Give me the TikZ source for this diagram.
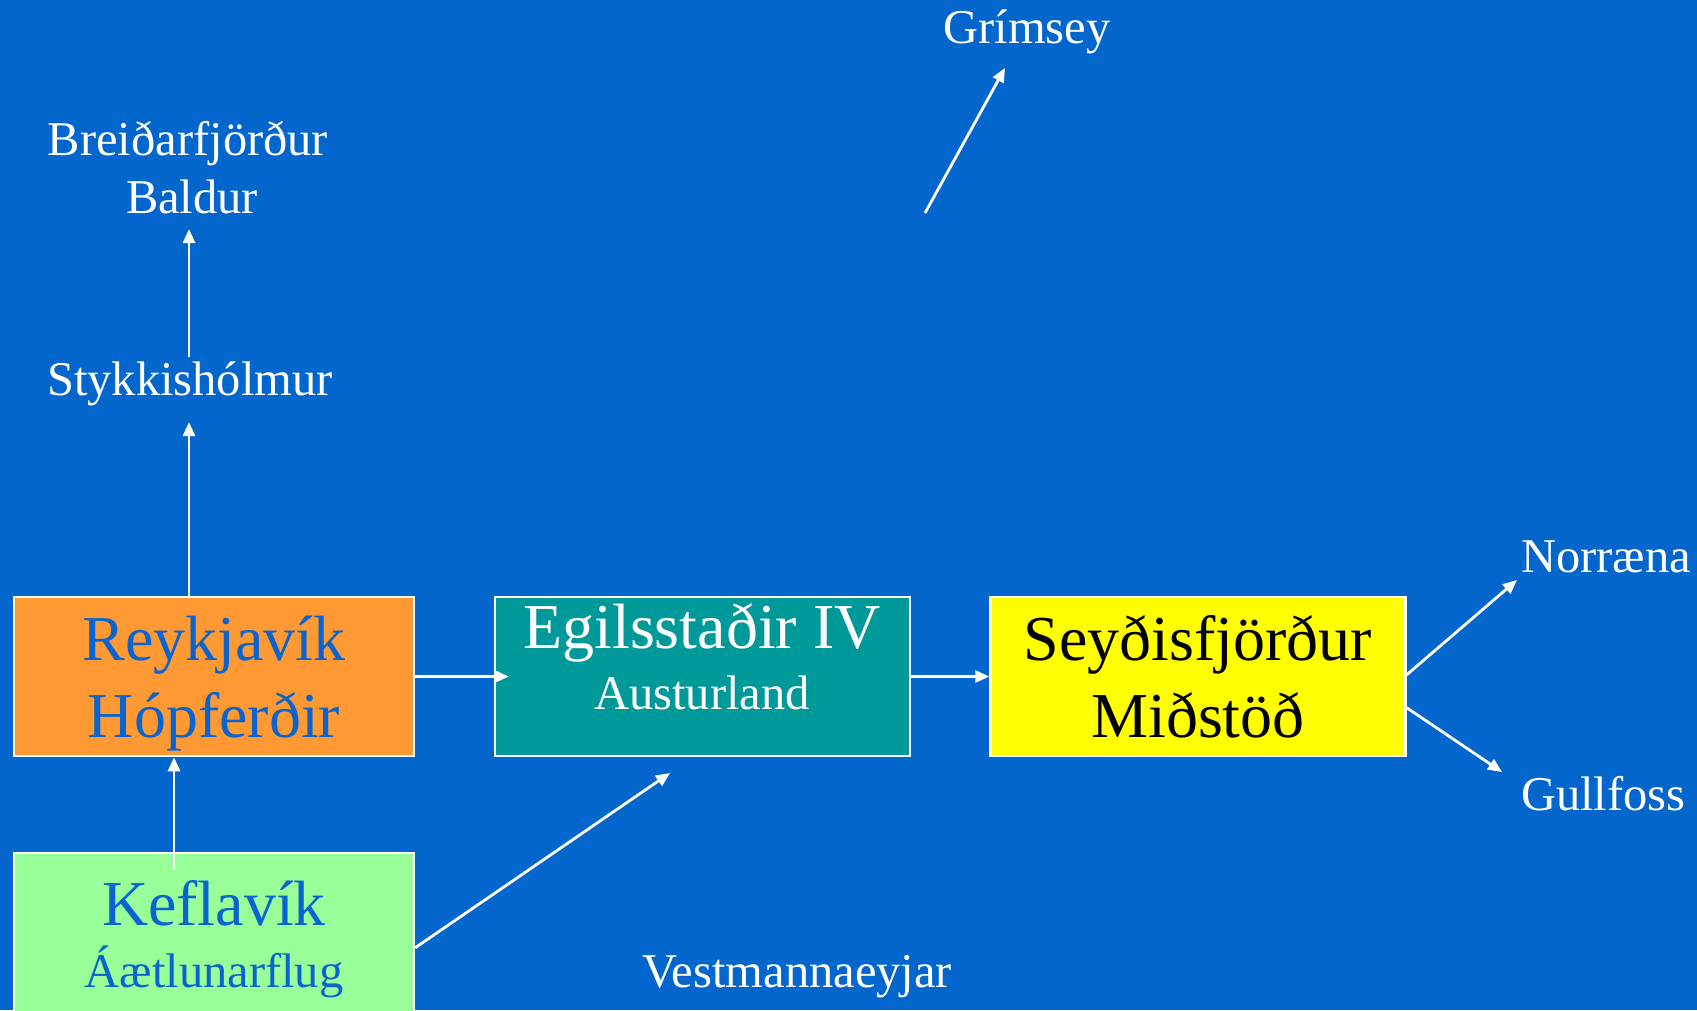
\documentclass[tikz,border=0pt]{standalone}
\usepackage{fontspec}
\setmainfont{Liberation Serif}
\usetikzlibrary{arrows.meta,calc}
\definecolor{bg}{HTML}{0366CC}
\definecolor{orng}{HTML}{FF9933}
\definecolor{teal2}{HTML}{009999}
\definecolor{lgreen}{HTML}{99FF99}
\definecolor{yel}{HTML}{FFFF00}
\definecolor{tblue}{HTML}{0A64CF}
\newcommand{\fL}{\fontsize{64}{77}\selectfont}
\newcommand{\fM}{\fontsize{48.5}{58}\selectfont}
\begin{document}
\begin{tikzpicture}[x=1pt,y=-1pt,
  box/.style={draw=white,line width=2.5pt,inner sep=0pt},
  lab/.style={inner sep=0pt,anchor=base},
  labw/.style={inner sep=0pt,anchor=base west},
  arr/.style={draw=white,line width=2.8pt,-{Triangle[length=14pt,width=12pt]}}]
\fill[bg] (0,0) rectangle (1697,1010);
\useasboundingbox (0,0) rectangle (1697,1010);
\clip (0,0) rectangle (1697,1010);
% boxes
\node[box,fill=orng,minimum width=400pt,minimum height=159pt] (r) at (214,676.5) {};
\node[box,fill=teal2,minimum width=415pt,minimum height=159pt] (e) at (702.5,676.5) {};
\node[box,fill=yel,minimum width=415pt,minimum height=159pt] (s) at (1198,676.5) {};
\node[box,fill=lgreen,minimum width=400pt,minimum height=200pt] (k) at (214,953) {};
% box texts
\node[lab,text=tblue,font=\fL] (r1) at (214,660) {Reykjavík};
\node[lab,text=tblue,font=\fL] (r2) at (214,737) {Hópferðir};
\node[lab,text=white,font=\fL] (e1) at (702,648) {Egilsstaðir IV};
\node[lab,text=white,font=\fM] (e2) at (702,709) {Austurland};
\node[lab,text=black,font=\fL] (s1) at (1198,660) {Seyðisfjörður};
\node[lab,text=black,font=\fL] (s2) at (1198,737) {Miðstöð};
\node[lab,text=tblue,font=\fL] (k1) at (214,925) {Keflavík};
\node[lab,text=tblue,font=\fM] (k2) at (214,987) {Áætlunarflug};
% free labels
\node[lab,text=white,font=\fM] (sty) at (190,395) {Stykkishólmur};
\node[lab,text=white,font=\fM] (br1) at (188,155) {Breiðarfjörður};
\node[lab,text=white,font=\fM] (br2) at (192,213) {Baldur};
\node[lab,text=white,font=\fM] (gr) at (1027,43) {Grímsey};
\node[labw,text=white,font=\fM] (no) at (1521,572) {Norræna};
\node[labw,text=white,font=\fM] (gu) at (1521,810) {Gullfoss};
\node[labw,text=white,font=\fM] (ve) at (642,987) {Vestmannaeyjar};
% arrow end coordinates
\coordinate (styB) at (189,422);
\coordinate (styT) at (189,357);
\coordinate (brB) at (189,229);
\coordinate (grS) at (925,213);
\coordinate (grE) at (1005,68);
\coordinate (keE) at (670,773);
\coordinate (krS) at (174,870);
\coordinate (noE) at (1517,580);
\coordinate (guE) at (1502,772);
% connectors
\draw[arr] (r.east) -- ($(e.west)+(15,0)$);
\draw[arr] (e.east) -- (s.west);
\draw[arr] (krS) -- (krS |- r.south);
\draw[arr] ($(k.north east)+(0,96)$) -- (keE);
\draw[arr] (styB |- r.north) -- (styB);
\draw[arr] (styT) -- (brB);
\draw[arr] (grS) -- (grE);
\draw[arr] ($(s.north east)+(0,79)$) -- (noE);
\draw[arr] ($(s.north east)+(0,112)$) -- (guE);
\end{tikzpicture}
\end{document}
